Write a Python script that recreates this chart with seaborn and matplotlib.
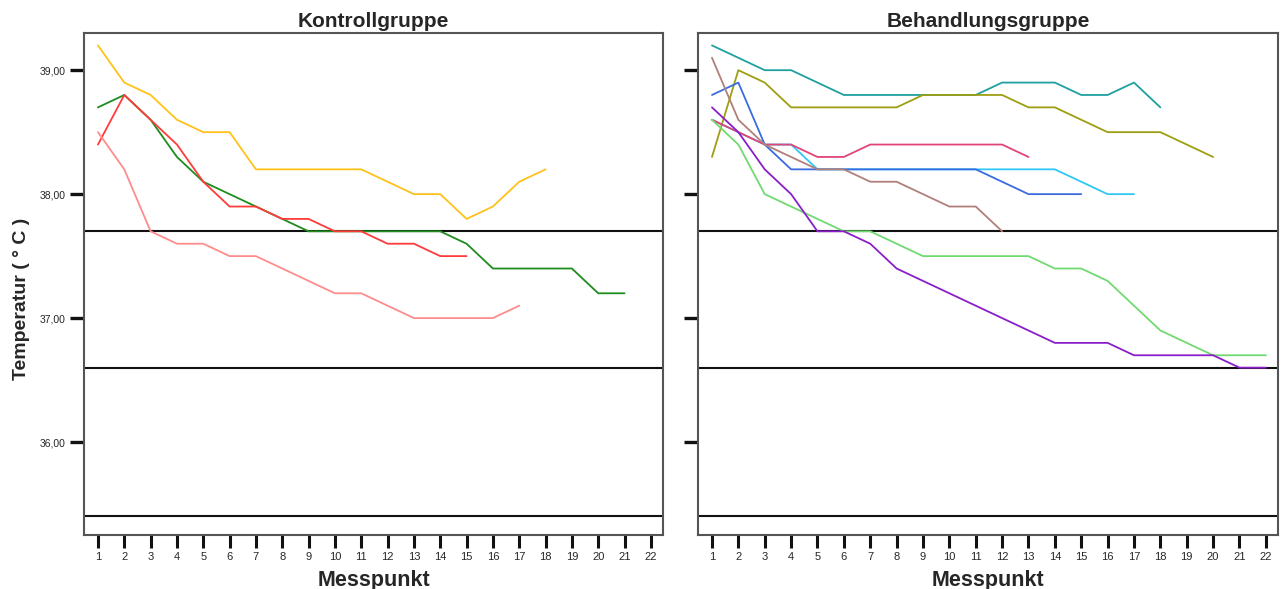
import matplotlib
matplotlib.use("Agg")
import matplotlib.pyplot as plt
import numpy as np
import pandas as pd
import seaborn as sns

# Messpunkte (x axis)
messpunkte = list(range(1, 23))

# Kontrollgruppe: temperature curves per patient
k_gelb = [39.2, 38.9, 38.8, 38.6, 38.5, 38.5, 38.2, 38.2, 38.2, 38.2, 38.2, 38.1,
          38.0, 38.0, 37.8, 37.9, 38.1, 38.2]
k_gruen = [38.7, 38.8, 38.6, 38.3, 38.1, 38.0, 37.9, 37.8, 37.7, 37.7, 37.7, 37.7,
           37.7, 37.7, 37.6, 37.4, 37.4, 37.4, 37.4, 37.2, 37.2]
k_rot = [38.4, 38.8, 38.6, 38.4, 38.1, 37.9, 37.9, 37.8, 37.8, 37.7, 37.7, 37.6,
         37.6, 37.5, 37.5]
k_lachs = [38.5, 38.2, 37.7, 37.6, 37.6, 37.5, 37.5, 37.4, 37.3, 37.2, 37.2, 37.1,
           37.0, 37.0, 37.0, 37.0, 37.1]

# Behandlungsgruppe: temperature curves per patient
b_petrol = [39.2, 39.1, 39.0, 39.0, 38.9, 38.8, 38.8, 38.8, 38.8, 38.8, 38.8, 38.9,
            38.9, 38.9, 38.8, 38.8, 38.9, 38.7]
b_oliv = [38.3, 39.0, 38.9, 38.7, 38.7, 38.7, 38.7, 38.7, 38.8, 38.8, 38.8, 38.8,
          38.7, 38.7, 38.6, 38.5, 38.5, 38.5, 38.4, 38.3]
b_cyan = [38.6, 38.5, 38.4, 38.4, 38.2, 38.2, 38.2, 38.2, 38.2, 38.2, 38.2, 38.2,
          38.2, 38.2, 38.1, 38.0, 38.0]
b_blau = [38.8, 38.9, 38.4, 38.2, 38.2, 38.2, 38.2, 38.2, 38.2, 38.2, 38.2, 38.1,
          38.0, 38.0, 38.0]
b_rosa = [38.6, 38.5, 38.4, 38.4, 38.3, 38.3, 38.4, 38.4, 38.4, 38.4, 38.4, 38.4, 38.3]
b_braun = [39.1, 38.6, 38.4, 38.3, 38.2, 38.2, 38.1, 38.1, 38.0, 37.9, 37.9, 37.7]
b_hellgruen = [38.6, 38.4, 38.0, 37.9, 37.8, 37.7, 37.7, 37.6, 37.5, 37.5, 37.5, 37.5,
               37.5, 37.4, 37.4, 37.3, 37.1, 36.9, 36.8, 36.7, 36.7, 36.7]
b_lila = [38.7, 38.5, 38.2, 38.0, 37.7, 37.7, 37.6, 37.4, 37.3, 37.2, 37.1, 37.0,
          36.9, 36.8, 36.8, 36.8, 36.7, 36.7, 36.7, 36.7, 36.6, 36.6]

# horizontal reference lines
referenzlinien = [37.7, 36.6, 35.4]

# y ticks
y_ticks = [36.0, 37.0, 38.0, 39.0]
y_ticklabels = ["36,00", "37,00", "38,00", "39,00"]

kontroll = {"gelb": (k_gelb, "#FFC21A"), "gruen": (k_gruen, "#1E8C1E"),
            "rot": (k_rot, "#FF3B3B"), "lachs": (k_lachs, "#FF8C8C")}
behandlung = {"petrol": (b_petrol, "#1FA0A0"), "oliv": (b_oliv, "#9E9E12"),
              "cyan": (b_cyan, "#2EC8F5"), "blau": (b_blau, "#3A6CE0"),
              "rosa": (b_rosa, "#E0447A"), "braun": (b_braun, "#B0807A"),
              "hellgruen": (b_hellgruen, "#70DA70"), "lila": (b_lila, "#8A1EC8")}


def to_long(groups):
    rows = []
    for name, (vals, _) in groups.items():
        for m, v in zip(messpunkte, vals):
            rows.append({"Patient": name, "Messpunkt": m, "Temperatur": v})
    return pd.DataFrame(rows)


sns.set_style("white")
plt.rcParams["font.family"] = ["Liberation Sans", "DejaVu Sans"]

W, H = 1283, 589
fig = plt.figure(figsize=(W / 100, H / 100), dpi=100)
ax1 = fig.add_axes([84 / W, 1 - 535 / H, 579 / W, 502 / H])
ax2 = fig.add_axes([698 / W, 1 - 535 / H, 580 / W, 502 / H])

for ax, groups, title in [(ax1, kontroll, "Kontrollgruppe"),
                          (ax2, behandlung, "Behandlungsgruppe")]:
    for r in referenzlinien:
        ax.axhline(r, color="#111111", lw=1.5, zorder=1)
    df = to_long(groups)
    order = list(groups.keys())
    pal = {k: c for k, (_, c) in groups.items()}
    sns.lineplot(data=df, x="Messpunkt", y="Temperatur", hue="Patient",
                 hue_order=order, palette=pal, legend=False, errorbar=None,
                 linewidth=1.3, ax=ax, zorder=2)
    ax.set_xlim(0.47, 22.46)
    ax.set_ylim(35.25, 39.3)
    ax.set_xticks(messpunkte)
    ax.set_xticklabels([str(m) for m in messpunkte], fontsize=8)
    ax.set_yticks(y_ticks)
    ax.tick_params(axis="x", bottom=True, direction="out", length=9, width=2.2,
                   color="#111111", pad=3)
    ax.tick_params(axis="y", left=True, direction="out", length=10, width=2.4,
                   color="#111111", pad=3)
    for s in ax.spines.values():
        s.set_color("#555555")
        s.set_linewidth(1.5)
    ax.set_title(title, fontsize=15, fontweight="bold", pad=4)
    ax.set_xlabel("Messpunkt", fontsize=15.5, fontweight="bold", labelpad=6)

ax1.set_yticklabels(y_ticklabels, fontsize=7.5)
ax2.set_yticklabels([])
ax1.set_ylabel("Temperatur ( ° C )", fontsize=14, fontweight="bold")
ax1.yaxis.set_label_coords(-0.093, 0.47)
ax2.set_ylabel("")

fig.savefig("out.png", dpi=100)
